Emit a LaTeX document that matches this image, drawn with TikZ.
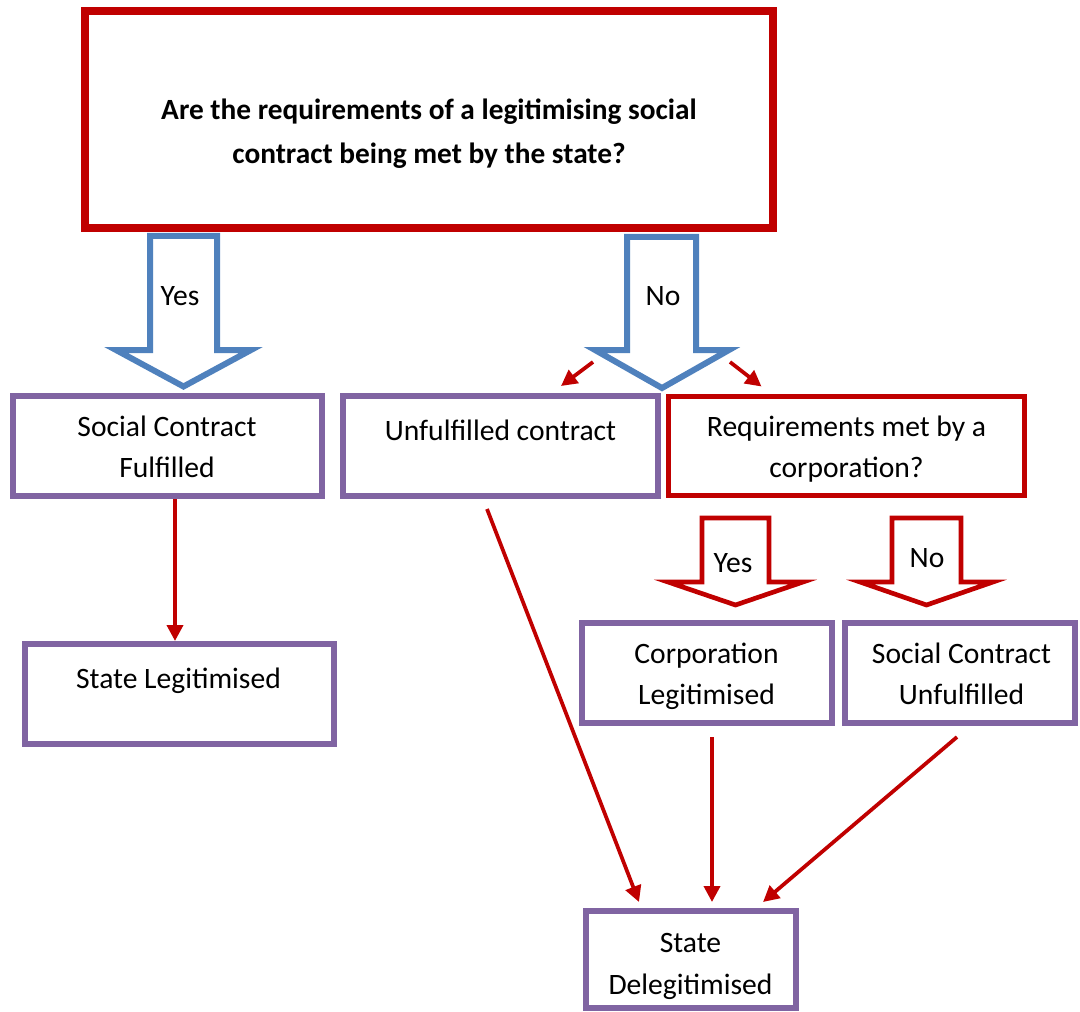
\documentclass[tikz,border=0pt]{standalone}
\usepackage{fontspec}
\setmainfont{Carlito}
\usetikzlibrary{arrows.meta,fit,calc}
\definecolor{cred}{HTML}{C00000}
\definecolor{cblue}{HTML}{4F81BD}
\definecolor{cpurple}{HTML}{8064A2}
\begin{document}
\begin{tikzpicture}[x=0.75pt,y=-0.75pt,
  box/.style={draw, inner sep=0pt, fill=white},
  pbox/.style={box, draw=cpurple, line width=4.5pt},
  rbox/.style={box, draw=cred, line width=3.75pt},
  topbox/.style={box, draw=cred, line width=5.6pt},
  txt/.style={font=\fontsize{22.2}{31}\selectfont, align=center, inner sep=0pt,
    execute at begin node=\strut, execute at end node=\strut},
  ttl/.style={font=\bfseries\fontsize{22}{33}\selectfont, align=center, inner sep=0pt,
    execute at begin node=\strut, execute at end node=\strut},
  barrow/.style={draw=cblue, line width=4.5pt, line join=miter, fill=white},
  rarrow/.style={draw=cred, line width=3.5pt, line join=miter, fill=white},
  conn/.style={draw=cred, line width=2.8pt, -{Triangle[length=12pt,width=12pt]}},
]
\useasboundingbox (0,0) rectangle (1080,1012);

% top question box
\node[topbox, fit={(85,11) (773,228)}] (q) {};
\node[ttl] (qt) at (429,138) {Are the requirements of a legitimising social\\contract being met by the state?};

% blue block arrows
\draw[barrow] (150,236) -- (217,236) -- (217,350) -- (251,350) -- (183.5,386.5) -- (116,350) -- (150,350) -- cycle;
\draw[barrow] (627,237) -- (696,237) -- (696,350) -- (729,350) -- (662,388) -- (595,350) -- (627,350) -- cycle;
\node[txt] (yes1) at (180,297) {Yes};
\node[txt] (no1) at (663,297) {No};
\coordinate (bno) at (661.5,350);

% red block arrows
\draw[rarrow] (702,518) -- (769,518) -- (769,582) -- (803,582) -- (735.5,605) -- (668,582) -- (702,582) -- cycle;
\draw[rarrow] (892,518) -- (961,518) -- (961,582) -- (993,582) -- (926.5,605) -- (860,582) -- (892,582) -- cycle;
\node[txt] (yes2) at (733,564) {Yes};
\node[txt] (no2) at (927,559) {No};

% boxes
\node[pbox, fit={(13,396) (322,496)}] (scf) {};
\node[pbox, fit={(343,396) (658,496)}] (unf) {};
\node[rbox, fit={(668,396) (1024,495)}] (req) {};
\node[pbox, fit={(25,644) (334,744)}] (sl) {};
\node[pbox, fit={(582,623) (832,723)}] (corp) {};
\node[pbox, fit={(845,623) (1075,723)}] (scu) {};
\node[pbox, fit={(586,911) (796,1008)}] (del) {};

% box texts
\node[txt] (tscf) at (167,453) {Social Contract\\Fulfilled};
\node[txt] (tunf) at (500.5,432) {Unfulfilled contract};
\node[txt] (treq) at (846.5,453) {Requirements met by a\\corporation?};
\node[txt] (tsl) at (178.5,680) {State Legitimised};
\node[txt] (tcorp) at (706.5,680) {Corporation\\Legitimised};
\node[txt] (tscu) at (961.5,680) {Social Contract\\Unfulfilled};
\node[txt] (tdel) at (690.5,970) {State\\Delegitimised};

% connectors
\draw[conn] ($(bno)+(-68.5,12)$) -- ($(unf.north east)+(-100,-7)$);
\draw[conn] ($(bno)+(68.5,12)$) -- ($(req.north west)+(96,-7)$);
\draw[conn] ($(scf.south)+(7.5,0)$) -- ($(sl.north)+(-4.5,0)$);
\draw[conn] ($(unf.south)+(-13.5,10)$) -- ($(del.north)+(-52,-6)$);
\draw[conn] ($(corp.south)+(5,11)$) -- ($(del.north)+(21,-6)$);
\draw[conn] ($(scu.south)+(-3,11)$) -- ($(del.north)+(72,-6)$);
\end{tikzpicture}
\end{document}
